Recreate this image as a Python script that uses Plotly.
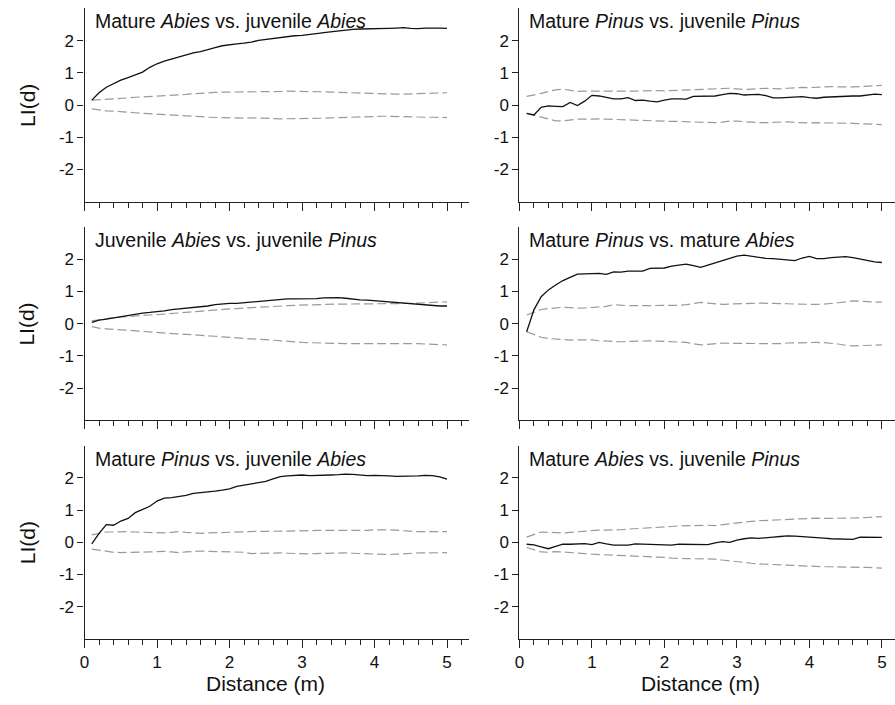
import plotly.graph_objects as go

# ---------------- data ----------------
distance = [0.1, 0.2, 0.3, 0.4, 0.5, 0.6, 0.7, 0.8, 0.9, 1.0,
            1.1, 1.2, 1.3, 1.4, 1.5, 1.6, 1.7, 1.8, 1.9, 2.0,
            2.1, 2.2, 2.3, 2.4, 2.5, 2.6, 2.7, 2.8, 2.9, 3.0,
            3.1, 3.2, 3.3, 3.4, 3.5, 3.6, 3.7, 3.8, 3.9, 4.0,
            4.1, 4.2, 4.3, 4.4, 4.5, 4.6, 4.7, 4.8, 4.9, 5.0]

panel_titles = [
    "Mature <i>Abies</i> vs. juvenile <i>Abies</i>",
    "Mature <i>Pinus</i> vs. juvenile <i>Pinus</i>",
    "Juvenile <i>Abies</i> vs. juvenile <i>Pinus</i>",
    "Mature <i>Pinus</i> vs. mature <i>Abies</i>",
    "Mature <i>Pinus</i> vs. juvenile <i>Abies</i>",
    "Mature <i>Abies</i> vs. juvenile <i>Pinus</i>",
]

# Panel 1: Mature Abies vs. juvenile Abies
p1_obs = [0.15, 0.38, 0.55, 0.67, 0.77, 0.85, 0.93, 1.02, 1.17, 1.28,
          1.36, 1.43, 1.49, 1.55, 1.62, 1.66, 1.71, 1.78, 1.84, 1.88,
          1.90, 1.92, 1.95, 2.01, 2.04, 2.07, 2.10, 2.13, 2.15, 2.16,
          2.18, 2.22, 2.25, 2.28, 2.31, 2.33, 2.35, 2.36, 2.36, 2.37,
          2.37, 2.38, 2.39, 2.40, 2.38, 2.37, 2.39, 2.40, 2.39, 2.38]
p1_hi = [0.15, 0.16, 0.17, 0.19, 0.21, 0.22, 0.24, 0.25, 0.27, 0.28,
         0.29, 0.30, 0.31, 0.33, 0.35, 0.37, 0.38, 0.39, 0.40, 0.40,
         0.40, 0.40, 0.40, 0.40, 0.41, 0.42, 0.42, 0.43, 0.43, 0.42,
         0.42, 0.41, 0.41, 0.40, 0.40, 0.39, 0.38, 0.37, 0.36, 0.35,
         0.35, 0.34, 0.34, 0.34, 0.35, 0.35, 0.36, 0.36, 0.37, 0.38]
p1_lo = [-0.12, -0.16, -0.18, -0.19, -0.20, -0.22, -0.24, -0.26, -0.27, -0.28,
         -0.29, -0.30, -0.31, -0.32, -0.34, -0.36, -0.38, -0.39, -0.40, -0.40,
         -0.41, -0.41, -0.40, -0.40, -0.41, -0.42, -0.43, -0.43, -0.43, -0.42,
         -0.42, -0.42, -0.41, -0.40, -0.39, -0.38, -0.37, -0.36, -0.36, -0.35,
         -0.35, -0.35, -0.36, -0.36, -0.37, -0.37, -0.38, -0.38, -0.38, -0.39]

# Panel 2: Mature Pinus vs. juvenile Pinus
p2_obs = [-0.26, -0.31, -0.07, -0.03, -0.04, -0.05, 0.08, -0.02, 0.12, 0.30,
          0.28, 0.24, 0.19, 0.19, 0.23, 0.14, 0.15, 0.12, 0.10, 0.15,
          0.19, 0.19, 0.18, 0.27, 0.27, 0.27, 0.28, 0.32, 0.36, 0.35,
          0.31, 0.32, 0.33, 0.29, 0.22, 0.22, 0.23, 0.25, 0.26, 0.23,
          0.21, 0.24, 0.25, 0.28, 0.28, 0.28, 0.28, 0.30, 0.34, 0.32]
p2_hi = [0.27, 0.31, 0.36, 0.42, 0.47, 0.49, 0.45, 0.42, 0.43, 0.43,
         0.42, 0.41, 0.41, 0.42, 0.42, 0.43, 0.44, 0.45, 0.45, 0.44,
         0.45, 0.46, 0.47, 0.47, 0.48, 0.50, 0.52, 0.53, 0.52, 0.50,
         0.48, 0.49, 0.51, 0.52, 0.51, 0.50, 0.52, 0.54, 0.55, 0.54,
         0.55, 0.57, 0.57, 0.56, 0.55, 0.56, 0.57, 0.58, 0.60, 0.61]
p2_lo = [-0.26, -0.32, -0.37, -0.43, -0.49, -0.49, -0.46, -0.44, -0.44, -0.43,
         -0.43, -0.44, -0.45, -0.46, -0.47, -0.47, -0.48, -0.48, -0.49, -0.50,
         -0.51, -0.51, -0.52, -0.53, -0.54, -0.55, -0.55, -0.53, -0.50, -0.50,
         -0.52, -0.54, -0.55, -0.55, -0.54, -0.53, -0.52, -0.54, -0.56, -0.56,
         -0.55, -0.55, -0.56, -0.57, -0.57, -0.57, -0.58, -0.59, -0.60, -0.61]

# Panel 3: Juvenile Abies vs. juvenile Pinus
p3_obs = [0.04, 0.11, 0.14, 0.18, 0.22, 0.25, 0.29, 0.33, 0.35, 0.37,
          0.40, 0.44, 0.46, 0.48, 0.49, 0.51, 0.55, 0.59, 0.62, 0.63,
          0.63, 0.65, 0.68, 0.70, 0.72, 0.74, 0.76, 0.77, 0.77, 0.77,
          0.78, 0.78, 0.80, 0.81, 0.81, 0.79, 0.76, 0.74, 0.73, 0.71,
          0.69, 0.67, 0.65, 0.63, 0.61, 0.59, 0.57, 0.55, 0.55, 0.55]
p3_hi = [0.09, 0.13, 0.16, 0.19, 0.21, 0.23, 0.25, 0.26, 0.27, 0.28,
         0.30, 0.32, 0.34, 0.35, 0.36, 0.38, 0.40, 0.42, 0.44, 0.46,
         0.47, 0.49, 0.50, 0.51, 0.52, 0.54, 0.55, 0.56, 0.57, 0.58,
         0.59, 0.60, 0.61, 0.61, 0.61, 0.61, 0.61, 0.61, 0.61, 0.61,
         0.61, 0.62, 0.62, 0.62, 0.63, 0.64, 0.65, 0.66, 0.67, 0.68]
p3_lo = [-0.09, -0.14, -0.16, -0.17, -0.19, -0.21, -0.22, -0.24, -0.26, -0.27,
         -0.29, -0.30, -0.32, -0.33, -0.34, -0.35, -0.37, -0.39, -0.41, -0.43,
         -0.45, -0.46, -0.47, -0.48, -0.50, -0.52, -0.54, -0.56, -0.57, -0.58,
         -0.59, -0.60, -0.61, -0.61, -0.62, -0.62, -0.62, -0.62, -0.62, -0.62,
         -0.61, -0.61, -0.61, -0.60, -0.61, -0.62, -0.63, -0.64, -0.65, -0.66]

# Panel 4: Mature Pinus vs. mature Abies
p4_obs = [-0.25, 0.43, 0.84, 1.05, 1.20, 1.34, 1.44, 1.54, 1.55, 1.55,
          1.56, 1.53, 1.61, 1.60, 1.63, 1.63, 1.63, 1.72, 1.72, 1.73,
          1.79, 1.81, 1.85, 1.80, 1.75, 1.82, 1.89, 1.98, 2.04, 2.10,
          2.13, 2.09, 2.05, 2.03, 2.02, 2.00, 1.96, 1.96, 2.04, 2.09,
          2.02, 2.02, 2.05, 2.07, 2.08, 2.05, 2.00, 1.96, 1.92, 1.90]
p4_hi = [0.27, 0.36, 0.44, 0.47, 0.50, 0.51, 0.50, 0.48, 0.49, 0.51,
         0.52, 0.54, 0.59, 0.57, 0.56, 0.56, 0.56, 0.56, 0.56, 0.55,
         0.56, 0.57, 0.59, 0.63, 0.66, 0.64, 0.61, 0.60, 0.61, 0.61,
         0.62, 0.63, 0.64, 0.64, 0.64, 0.63, 0.62, 0.61, 0.60, 0.60,
         0.60, 0.61, 0.62, 0.65, 0.68, 0.71, 0.70, 0.68, 0.67, 0.67]
p4_lo = [-0.25, -0.34, -0.42, -0.46, -0.48, -0.50, -0.51, -0.50, -0.49, -0.50,
         -0.53, -0.54, -0.56, -0.56, -0.55, -0.54, -0.54, -0.53, -0.54, -0.55,
         -0.56, -0.57, -0.58, -0.62, -0.66, -0.64, -0.61, -0.60, -0.61, -0.61,
         -0.62, -0.62, -0.62, -0.63, -0.63, -0.62, -0.60, -0.59, -0.58, -0.58,
         -0.58, -0.59, -0.60, -0.63, -0.67, -0.69, -0.68, -0.67, -0.66, -0.66]

# Panel 5: Mature Pinus vs. juvenile Abies
p5_obs = [-0.05, 0.28, 0.55, 0.53, 0.66, 0.74, 0.92, 1.02, 1.12, 1.28,
          1.37, 1.39, 1.42, 1.46, 1.52, 1.54, 1.55, 1.59, 1.62, 1.66,
          1.74, 1.78, 1.80, 1.85, 1.89, 1.97, 2.04, 2.06, 2.07, 2.09,
          2.07, 2.07, 2.09, 2.09, 2.10, 2.12, 2.11, 2.09, 2.07, 2.08,
          2.08, 2.06, 2.05, 2.05, 2.05, 2.06, 2.08, 2.07, 2.03, 1.96]
p5_hi = [0.23, 0.28, 0.32, 0.32, 0.33, 0.33, 0.32, 0.31, 0.30, 0.30,
         0.29, 0.31, 0.33, 0.31, 0.29, 0.28, 0.29, 0.30, 0.30, 0.30,
         0.31, 0.32, 0.35, 0.34, 0.34, 0.34, 0.34, 0.35, 0.36, 0.36,
         0.36, 0.37, 0.37, 0.36, 0.36, 0.35, 0.35, 0.36, 0.37, 0.39,
         0.39, 0.39, 0.38, 0.36, 0.34, 0.33, 0.33, 0.33, 0.33, 0.33]
p5_lo = [-0.21, -0.25, -0.29, -0.31, -0.32, -0.32, -0.31, -0.30, -0.30, -0.29,
         -0.28, -0.30, -0.32, -0.30, -0.28, -0.27, -0.28, -0.29, -0.29, -0.30,
         -0.30, -0.31, -0.35, -0.34, -0.33, -0.33, -0.33, -0.34, -0.35, -0.36,
         -0.36, -0.35, -0.34, -0.34, -0.34, -0.33, -0.34, -0.35, -0.36, -0.37,
         -0.38, -0.38, -0.37, -0.35, -0.33, -0.33, -0.33, -0.32, -0.32, -0.32]

# Panel 6: Mature Abies vs. juvenile Pinus
p6_obs = [-0.06, -0.08, -0.14, -0.20, -0.13, -0.06, -0.06, -0.06, -0.04, -0.07,
          0.00, -0.05, -0.09, -0.09, -0.09, -0.05, -0.06, -0.07, -0.08, -0.08,
          -0.09, -0.06, -0.06, -0.06, -0.08, -0.07, -0.02, 0.02, 0.00, 0.07,
          0.11, 0.14, 0.12, 0.13, 0.16, 0.18, 0.20, 0.19, 0.18, 0.17,
          0.16, 0.13, 0.11, 0.11, 0.10, 0.09, 0.16, 0.16, 0.15, 0.15]
p6_hi = [0.16, 0.23, 0.32, 0.31, 0.29, 0.29, 0.31, 0.33, 0.35, 0.37,
         0.38, 0.38, 0.38, 0.39, 0.41, 0.42, 0.43, 0.44, 0.45, 0.46,
         0.49, 0.51, 0.52, 0.53, 0.53, 0.53, 0.52, 0.55, 0.58, 0.61,
         0.63, 0.65, 0.67, 0.68, 0.70, 0.72, 0.72, 0.73, 0.74, 0.76,
         0.75, 0.74, 0.74, 0.75, 0.76, 0.76, 0.76, 0.77, 0.78, 0.80]
p6_lo = [-0.16, -0.22, -0.30, -0.31, -0.29, -0.30, -0.31, -0.33, -0.35, -0.37,
         -0.38, -0.38, -0.38, -0.39, -0.40, -0.42, -0.43, -0.45, -0.46, -0.47,
         -0.49, -0.51, -0.51, -0.51, -0.51, -0.51, -0.52, -0.55, -0.58, -0.61,
         -0.63, -0.65, -0.67, -0.68, -0.70, -0.71, -0.72, -0.73, -0.74, -0.76,
         -0.76, -0.76, -0.76, -0.76, -0.76, -0.76, -0.77, -0.78, -0.79, -0.80]

observed = [p1_obs, p2_obs, p3_obs, p4_obs, p5_obs, p6_obs]
upper = [p1_hi, p2_hi, p3_hi, p4_hi, p5_hi, p6_hi]
lower = [p1_lo, p2_lo, p3_lo, p4_lo, p5_lo, p6_lo]

y_tickvals = [-2, -1, 0, 1, 2]
y_ticktext = ["-2", "-1", "0", "1", "2"]
x_tickvals = [0, 1, 2, 3, 4, 5]
x_ticktext = ["0", "1", "2", "3", "4", "5"]

# ---------------- layout geometry (pixels) ----------------
W, H = 895, 705
FONT = "Liberation Sans, Arial, Helvetica, sans-serif"
row_top = [8.4, 227.1, 445.7]
row_h = 193.2
col_left = [80.0, 517.3]
col_right = [466.9, 895.0]
px_per_unit = 72.9
AXC = "#222222"
TXT = "#111111"

fig = go.Figure()
layout = dict(
    width=W, height=H,
    margin=dict(l=0, r=0, t=0, b=0),
    paper_bgcolor="white", plot_bgcolor="white",
    showlegend=False,
    font=dict(family=FONT, color=TXT),
)
annotations = []

for i in range(6):
    r, c = divmod(i, 2)
    n = i + 1
    xa = "x" if n == 1 else f"x{n}"
    ya = "y" if n == 1 else f"y{n}"
    xkey = "xaxis" if n == 1 else f"xaxis{n}"
    ykey = "yaxis" if n == 1 else f"yaxis{n}"

    x0, x1 = col_left[c], col_right[c]
    y0, y1 = row_top[r], row_top[r] + row_h
    xmax = (x1 - x0) / px_per_unit

    fig.add_trace(go.Scatter(x=distance, y=upper[i], mode="lines", xaxis=xa, yaxis=ya,
                             line=dict(color="#9a9a9a", width=1.2, dash="9px,4px")))
    fig.add_trace(go.Scatter(x=distance, y=lower[i], mode="lines", xaxis=xa, yaxis=ya,
                             line=dict(color="#9a9a9a", width=1.2, dash="9px,4px")))
    fig.add_trace(go.Scatter(x=distance, y=observed[i], mode="lines", xaxis=xa, yaxis=ya,
                             line=dict(color="#111111", width=1.3)))

    layout[xkey] = dict(
        domain=[x0 / W, x1 / W], range=[0, xmax], anchor=ya,
        showline=True, linecolor=AXC, linewidth=1.3,
        showgrid=False, zeroline=False,
        tickmode="array", tickvals=x_tickvals, ticktext=x_ticktext,
        ticks="outside", ticklen=8, tickwidth=1.2, tickcolor=AXC,
        minor=dict(tickmode="linear", tick0=0, dtick=0.2, ticks="outside",
                   ticklen=5, tickwidth=1.1, tickcolor=AXC, showgrid=False),
        showticklabels=(r == 2),
        tickfont=dict(size=17, family=FONT, color=TXT),
        fixedrange=True,
    )
    layout[ykey] = dict(
        domain=[1 - y1 / H, 1 - y0 / H], range=[-3, 3], anchor=xa,
        showline=True, linecolor=AXC, linewidth=1.3,
        showgrid=False, zeroline=False,
        tickmode="array", tickvals=y_tickvals, ticktext=y_ticktext,
        ticks="outside", ticklen=6, tickwidth=1.2, tickcolor=AXC,
        tickfont=dict(size=17, family=FONT, color=TXT),
        fixedrange=True,
    )

    # panel title
    annotations.append(dict(
        text=panel_titles[i], xref="paper", yref="paper",
        x=(x0 + 8) / W, y=1 - (y0 + 13) / H,
        xanchor="left", yanchor="middle", showarrow=False,
        font=dict(size=19.5, family=FONT, color=TXT),
    ))
    # y-axis title on left column
    if c == 0:
        annotations.append(dict(
            text="LI(d)", xref="paper", yref="paper",
            x=22 / W, y=1 - (y0 + row_h / 2) / H,
            xanchor="center", yanchor="middle", showarrow=False, textangle=-90,
            font=dict(size=21, family=FONT, color=TXT),
        ))
    # x-axis title on bottom row
    if r == 2:
        annotations.append(dict(
            text="Distance (m)", xref=xa, yref="paper",
            x=2.5, y=1 - 683 / H,
            xanchor="center", yanchor="middle", showarrow=False,
            font=dict(size=21, family=FONT, color=TXT),
        ))

layout["annotations"] = annotations
fig.update_layout(**layout)
fig.write_html("out.html")
